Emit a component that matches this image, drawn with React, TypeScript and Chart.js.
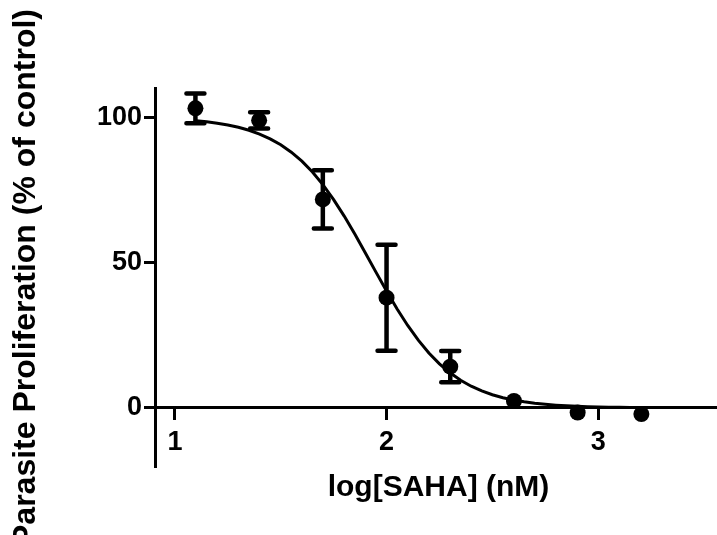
import React, { useEffect, useRef } from "react";
import { Chart, registerables } from "chart.js";

Chart.register(...registerables);

// log10 of SAHA concentration (nM): 12.5 ... 1600 nM, twofold dilutions
const logConc = [1.097, 1.398, 1.699, 2.0, 2.301, 2.602, 2.903, 3.204];
// mean parasite proliferation (% of control)
const meanPct = [103.0, 98.9, 71.7, 37.9, 14.2, 2.4, -1.6, -2.1];
// error (+/-) in % of control; 0 where the bar is hidden by the symbol
const errPct = [5.1, 2.8, 10.0, 18.2, 5.4, 0, 0, 0];

// fitted dose-response curve
const curveX = [
  1.10, 1.15, 1.20, 1.25, 1.30, 1.35, 1.40, 1.45, 1.50, 1.55, 1.60, 1.65, 1.70, 1.75,
  1.80, 1.85, 1.90, 1.95, 2.00, 2.05, 2.10, 2.15, 2.20, 2.25, 2.30, 2.35, 2.40, 2.45,
  2.50, 2.55, 2.60, 2.65, 2.70, 2.75, 2.80, 2.85, 2.90, 2.95, 3.00, 3.05, 3.10, 3.15, 3.20,
];
const curveY = [
  98.75, 98.38, 97.89, 97.27, 96.48, 95.46, 94.16, 92.52, 90.47, 87.93, 84.83, 81.10, 76.70, 71.64,
  65.97, 59.80, 53.31, 46.69, 40.20, 34.03, 28.36, 23.30, 18.90, 15.17, 12.07, 9.53, 7.48, 5.84,
  4.54, 3.52, 2.73, 2.11, 1.62, 1.25, 0.96, 0.74, 0.57, 0.44, 0.34, 0.26, 0.20, 0.15, 0.12,
];

const xTicks = [1, 2, 3];
const yTicks = [0, 50, 100];

const FONT = "'Liberation Sans', Arial, Helvetica, sans-serif";

export default function App() {
  const ref = useRef<HTMLCanvasElement | null>(null);

  useEffect(() => {
    document.body.style.margin = "0";
    const canvas = ref.current;
    if (!canvas) return;

    const errorBars = {
      id: "errorBars",
      afterDatasetsDraw(chart: any) {
        const { ctx } = chart;
        const x = chart.scales.x;
        const y = chart.scales.y;
        ctx.save();
        ctx.strokeStyle = "#000";
        ctx.lineWidth = 4.5;
        ctx.lineCap = "round";
        logConc.forEach((lx, i) => {
          const e = errPct[i];
          if (!e) return;
          const px = x.getPixelForValue(lx);
          const top = y.getPixelForValue(meanPct[i] + e);
          const bot = y.getPixelForValue(meanPct[i] - e);
          ctx.beginPath();
          ctx.moveTo(px, top);
          ctx.lineTo(px, bot);
          ctx.moveTo(px - 9, top);
          ctx.lineTo(px + 9, top);
          ctx.moveTo(px - 9, bot);
          ctx.lineTo(px + 9, bot);
          ctx.stroke();
        });
        ctx.restore();
      },
    };

    const chart = new Chart(canvas, {
      type: "scatter",
      data: {
        datasets: [
          {
            label: "fit",
            data: curveX.map((v, i) => ({ x: v, y: curveY[i] })),
            showLine: true,
            borderColor: "#000",
            borderWidth: 3,
            pointRadius: 0,
            fill: false,
            tension: 0,
          },
          {
            label: "data",
            data: logConc.map((v, i) => ({ x: v, y: meanPct[i] })),
            showLine: false,
            pointRadius: 8,
            pointBackgroundColor: "#000",
            pointBorderColor: "#000",
            pointBorderWidth: 0,
          },
        ],
      },
      options: {
        responsive: false,
        animation: false,
        layout: { padding: { top: 88, bottom: 68, left: 0, right: 0 } },
        plugins: {
          legend: { display: false },
          tooltip: { enabled: false },
        },
        scales: {
          x: {
            type: "linear",
            position: { y: 0 } as any,
            min: 0.906,
            max: 3.585,
            afterBuildTicks: (s: any) => {
              s.ticks = xTicks.map((v) => ({ value: v }));
            },
            ticks: {
              color: "#000",
              font: { family: FONT, size: 27, weight: "bold" },
              padding: 7,
              maxRotation: 0,
            },
            grid: {
              display: true,
              drawOnChartArea: false,
              drawTicks: true,
              tickLength: 11,
              tickWidth: 3,
              tickColor: "#000",
            },
            border: { display: true, color: "#000", width: 3 },
            title: {
              display: true,
              text: "log[SAHA] (nM)",
              color: "#000",
              font: { family: FONT, size: 30, weight: "bold" },
              padding: { top: 4, bottom: 0 },
            },
          },
          y: {
            type: "linear",
            position: "left",
            min: -20.3,
            max: 110,
            afterBuildTicks: (s: any) => {
              s.ticks = yTicks.map((v) => ({ value: v }));
            },
            afterFit: (s: any) => {
              s.width = 155;
            },
            ticks: {
              color: "#000",
              font: { family: FONT, size: 27, weight: "bold" },
              padding: 2,
            },
            grid: {
              display: true,
              drawOnChartArea: false,
              drawTicks: true,
              tickLength: 11,
              tickWidth: 3,
              tickColor: "#000",
            },
            border: { display: true, color: "#000", width: 3 },
            title: {
              display: true,
              text: "Parasite Proliferation (% of control)",
              color: "#000",
              font: { family: FONT, size: 32, weight: "bold" },
              padding: { top: 7, bottom: 0 },
            },
          },
        },
      },
      plugins: [errorBars],
    });

    return () => {
      chart.destroy();
    };
  }, []);

  return (
    <div
      style={{
        position: "absolute",
        left: 0,
        top: 0,
        width: 717,
        height: 535,
        overflow: "hidden",
      }}
    >
      <canvas ref={ref} width={730} height={535} style={{ display: "block" }} />
    </div>
  );
}
